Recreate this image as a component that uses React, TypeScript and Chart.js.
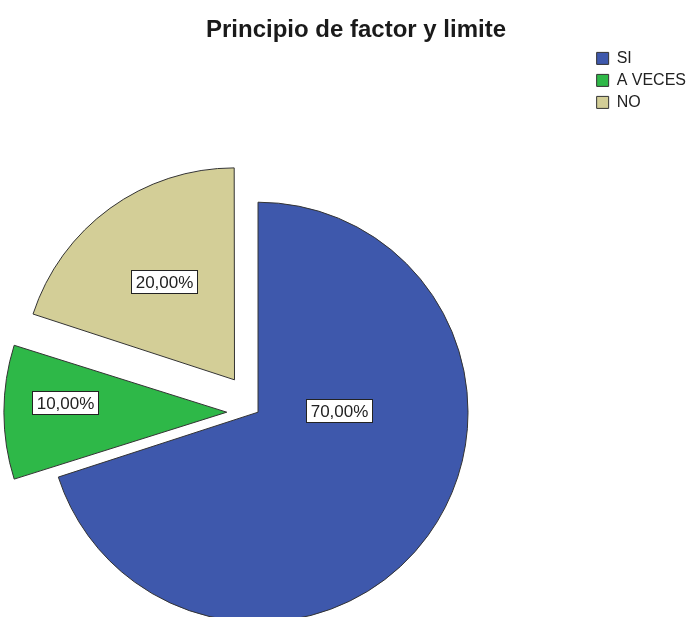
import React, { useEffect, useRef } from 'react';
import { Chart, registerables } from 'chart.js';

Chart.register(...registerables);

const TITLE = 'Principio de factor y limite';
const CATEGORIES = ['SI', 'A VECES', 'NO'];
const VALUES = [70, 10, 20];
const COLORS = ['#3E58AC', '#2EB848', '#D3CE97'];
const OFFSETS = [0, 125, 160];
// label placement inside each slice: fraction of the slice's angle, fraction of radius
const LABEL_ANGLE_FRAC = [0.353, 0.597, 0.506];
const LABEL_RADIUS_FRAC = [0.386, 0.77, 0.577];

const FONT = 'Arial, "Liberation Sans", Helvetica, sans-serif';

const labelPlugin = {
  id: 'sliceLabels',
  afterDatasetsDraw(chart: any) {
    const ctx = chart.ctx;
    const meta = chart.getDatasetMeta(0);
    const data = chart.data.datasets[0].data as number[];
    const total = data.reduce((a, b) => a + b, 0);
    ctx.save();
    ctx.font = `17px ${FONT}`;
    ctx.textAlign = 'center';
    ctx.textBaseline = 'middle';
    meta.data.forEach((el: any, i: number) => {
      const { x, y, startAngle, endAngle, outerRadius } = el.getProps(
        ['x', 'y', 'startAngle', 'endAngle', 'outerRadius'],
        true
      );
      const circ = endAngle - startAngle;
      const shift = (el.options.offset || 0) / 4;
      const half = (startAngle + endAngle) / 2;
      const cx = x + Math.cos(half) * shift;
      const cy = y + Math.sin(half) * shift;
      const a = startAngle + circ * LABEL_ANGLE_FRAC[i];
      const r = outerRadius * LABEL_RADIUS_FRAC[i];
      const lx = cx + Math.cos(a) * r;
      const ly = cy + Math.sin(a) * r;
      const text = ((data[i] / total) * 100).toFixed(2).replace('.', ',') + '%';
      const w = Math.round(ctx.measureText(text).width + 8);
      const h = 23;
      const bx = Math.round(lx - w / 2) + 0.5;
      const by = Math.round(ly - h / 2) + 0.5;
      ctx.fillStyle = '#ffffff';
      ctx.fillRect(bx, by, w, h);
      ctx.strokeStyle = '#222222';
      ctx.lineWidth = 1;
      ctx.strokeRect(bx, by, w, h);
      ctx.fillStyle = '#222222';
      ctx.fillText(text, bx + w / 2, by + h / 2 + 1);
    });
    ctx.restore();
  },
};

export default function App() {
  const ref = useRef<HTMLCanvasElement | null>(null);
  useEffect(() => {
    if (!ref.current) return;
    const chart = new Chart(ref.current, {
      type: 'pie',
      data: {
        labels: CATEGORIES,
        datasets: [
          {
            data: VALUES,
            backgroundColor: COLORS,
            borderColor: '#333333',
            borderWidth: 1,
            offset: OFFSETS,
            hoverOffset: 0,
            radius: 210,
          } as any,
        ],
      },
      options: {
        responsive: false,
        animation: false,
        devicePixelRatio: 1,
        events: [],
        radius: 210,
        layout: { padding: { left: 16, right: 0, top: 0, bottom: 0 } },
        plugins: {
          title: {
            display: true,
            text: TITLE,
            color: '#1a1a1a',
            font: { family: FONT, size: 24, weight: 'bold' },
            padding: { top: 15.6, bottom: 0 },
          },
          subtitle: {
            display: true,
            text: '',
            position: 'right',
            weight: 500,
            font: { size: 10, lineHeight: 1 },
            padding: { top: 80.6, bottom: 0 },
          },
          legend: {
            position: 'right',
            align: 'start',
            fullSize: false,
            labels: {
              boxWidth: 12,
              boxHeight: 12,
              padding: 6,
              color: '#222222',
              font: { family: FONT, size: 16 },
            },
          },
          tooltip: { enabled: false },
        },
      } as any,
      plugins: [labelPlugin],
    });
    return () => chart.destroy();
  }, []);
  return (
    <div
      style={{
        position: 'fixed',
        left: 0,
        top: 0,
        width: 688,
        height: 617,
        overflow: 'hidden',
        background: '#ffffff',
      }}
    >
      <canvas ref={ref} width={696} height={780} style={{ display: 'block', width: 696, height: 780 }} />
    </div>
  );
}
